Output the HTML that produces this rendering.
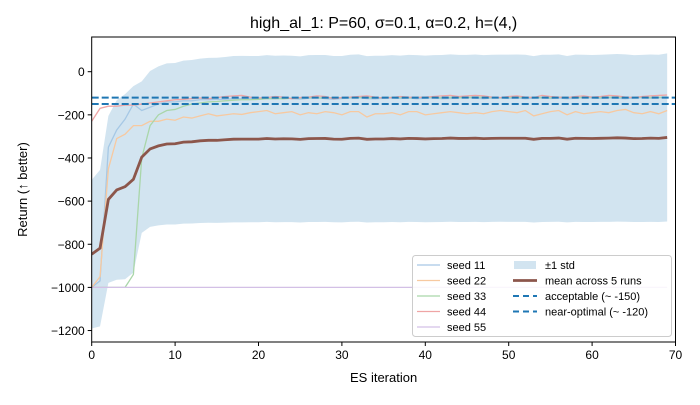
<!DOCTYPE html>
<html><head><meta charset="utf-8"><style>
body{margin:0;background:#fff;width:700px;height:400px;overflow:hidden}
text{font-family:"Liberation Sans","DejaVu Sans",sans-serif}
</style></head><body>
<svg id="chart" width="700" height="400" xmlns="http://www.w3.org/2000/svg"></svg>
<script>
const iterations = Array.from({length:70},(_,i)=>i);
const seed11 = [-1000,-970,-350,-270,-220,-150,-180,-165,-150,-140,-140,-135,-135,-130,-130,-128,-128,-125,-125,-125,-128,-124,-126,-122,-125,-127,-123,-121,-125,-128,-124,-122,-120,-125,-126,-123,-121,-124,-122,-125,-123,-121,-125,-124,-122,-120,-123,-125,-122,-121,-124,-122,-125,-123,-121,-124,-122,-125,-123,-120,-122,-124,-121,-123,-125,-122,-120,-123,-121,-118];
const seed22 = [-1000,-950,-450,-310,-290,-250,-250,-230,-230,-220,-225,-210,-215,-205,-195,-205,-200,-195,-198,-190,-185,-180,-195,-190,-185,-200,-190,-195,-185,-190,-200,-185,-185,-210,-195,-195,-190,-200,-185,-185,-200,-195,-190,-185,-190,-195,-190,-195,-185,-180,-185,-190,-180,-205,-195,-185,-180,-200,-185,-195,-190,-185,-190,-180,-175,-190,-195,-185,-195,-180];
const seed33 = [-1000,-1000,-1000,-1000,-1000,-940,-400,-250,-200,-180,-175,-160,-150,-145,-140,-138,-135,-132,-130,-130,-128,-125,-124,-125,-123,-122,-120,-121,-122,-120,-121,-120,-119,-120,-121,-120,-119,-120,-121,-120,-118,-120,-121,-119,-120,-120,-118,-119,-120,-121,-119,-118,-120,-119,-120,-121,-118,-119,-120,-119,-118,-120,-119,-118,-120,-119,-118,-120,-119,-118];
const seed44 = [-230,-170,-160,-160,-155,-155,-150,-145,-140,-135,-130,-128,-125,-122,-125,-120,-115,-112,-110,-118,-122,-120,-115,-118,-125,-120,-118,-112,-115,-125,-120,-118,-115,-112,-118,-122,-120,-115,-118,-120,-118,-115,-112,-110,-115,-112,-110,-112,-118,-120,-115,-112,-118,-120,-110,-115,-118,-120,-115,-112,-118,-115,-110,-112,-118,-120,-115,-112,-110,-108];
const seed55 = new Array(70).fill(-1000);
const seeds = [seed11,seed22,seed33,seed44,seed55];
const seedLabels = ["seed 11","seed 22","seed 33","seed 44","seed 55"];
const seedColors = ["#a6c8e5","#f7c9a0","#a9d6a9","#efa5a5","#d3c0e6"];
const xTicks = [0,10,20,30,40,50,60,70];
const yTicks = [0,-200,-400,-600,-800,-1000,-1200];
const refValues = [-150,-120];

const L=91.7,R=675.5,T=37,B=342;
const X=v=>L+v*(8.34);
const Y=v=>71.7-v*0.2157;
const svg=document.getElementById('chart');
const NS='http://www.w3.org/2000/svg';
function mk(tag,attrs,parent){const e=document.createElementNS(NS,tag);for(const k in attrs)e.setAttribute(k,attrs[k]);(parent||svg).appendChild(e);return e;}

const mean=iterations.map(i=>seeds.reduce((s,a)=>s+a[i],0)/seeds.length);
const std=iterations.map(i=>{const m=mean[i];return Math.sqrt(seeds.reduce((s,a)=>s+(a[i]-m)**2,0)/(seeds.length-1));});

const clip=mk('clipPath',{id:'pc'});mk('rect',{x:L,y:T,width:R-L,height:B-T},clip);
const g=mk('g',{'clip-path':'url(#pc)'});



let band='M'+iterations.map(i=>X(i)+','+Y(mean[i]+std[i])).join('L')+'L'+iterations.slice().reverse().map(i=>X(i)+','+Y(mean[i]-std[i])).join('L')+'Z';
const bandEl=mk('path',{d:band,fill:'#1f77b4','fill-opacity':0.2,stroke:'none'},g);



seeds.forEach((s,k)=>{
  const p=mk('polyline',{points:iterations.map(i=>X(i)+','+Y(s[i])).join(' '),fill:'none',stroke:seedColors[k],'stroke-width':1.3},g);
  
  
});
const ml=mk('polyline',{points:iterations.map(i=>X(i)+','+Y(mean[i])).join(' '),fill:'none',stroke:'#8c564b','stroke-width':2.8},g);


refValues.forEach((v,k)=>{
  const l=mk('line',{x1:L,x2:R,y1:Y(v),y2:Y(v),stroke:'#1f77b4','stroke-width':2,'stroke-dasharray':'7,3'},g);
  
  
});

const frame=mk('rect',{x:L,y:T,width:R-L,height:B-T,fill:'none',stroke:'#000','stroke-width':1});



xTicks.forEach(v=>{
  mk('line',{x1:X(v),x2:X(v),y1:B,y2:B+4,stroke:'#000'});
  const t=mk('text',{x:X(v),y:B+17,'text-anchor':'middle','font-size':12});t.textContent=v;
  
  
});
yTicks.forEach(v=>{
  mk('line',{x1:L-4,x2:L,y1:Y(v),y2:Y(v),stroke:'#000'});
  const t=mk('text',{x:L-7,y:Y(v)+4.5,'text-anchor':'end','font-size':12});t.textContent=v==0?'0':'\u2212'+(-v);
  
  
});
const xt=mk('text',{x:(L+R)/2,y:382,'text-anchor':'middle','font-size':13});xt.textContent='ES iteration';


const yt=mk('text',{x:27,y:(T+B)/2,'text-anchor':'middle','font-size':13,transform:`rotate(-90 27 ${(T+B)/2})`});yt.textContent='Return (↑ better)';


const tt=mk('text',{x:(L+R)/2,y:28,'text-anchor':'middle','font-size':16});tt.textContent='high_al_1: P=60, σ=0.1, α=0.2, h=(4,)';



const lg=mk('g',{});


mk('rect',{x:412.5,y:255.5,width:259,height:81,rx:3,fill:'#fff','fill-opacity':0.85,stroke:'#ccc'},lg);
seedLabels.forEach((s,k)=>{
  const y=265+k*15.5;
  mk('line',{x1:417,x2:440,y1:y,y2:y,stroke:seedColors[k],'stroke-width':1.3},lg);
  const t=mk('text',{x:447,y:y+4,'font-size':11},lg);t.textContent=s;
  
  
});
const right=[['±1 std','band'],['mean across 5 runs','mean'],['acceptable (~ -150)','dash'],['near-optimal (~ -120)','dash']];
right.forEach((r,k)=>{
  const y=265+k*15.5;
  if(r[1]=='band')mk('rect',{x:514,y:y-4,width:22,height:8,fill:'#1f77b4','fill-opacity':0.2},lg);
  else if(r[1]=='mean')mk('line',{x1:513,x2:537,y1:y,y2:y,stroke:'#8c564b','stroke-width':2.8},lg);
  else mk('line',{x1:513,x2:537,y1:y,y2:y,stroke:'#1f77b4','stroke-width':2,'stroke-dasharray':'6,4'},lg);
  const t=mk('text',{x:545,y:y+4,'font-size':11},lg);t.textContent=r[0];
  
  
});
</script>
</body></html>
